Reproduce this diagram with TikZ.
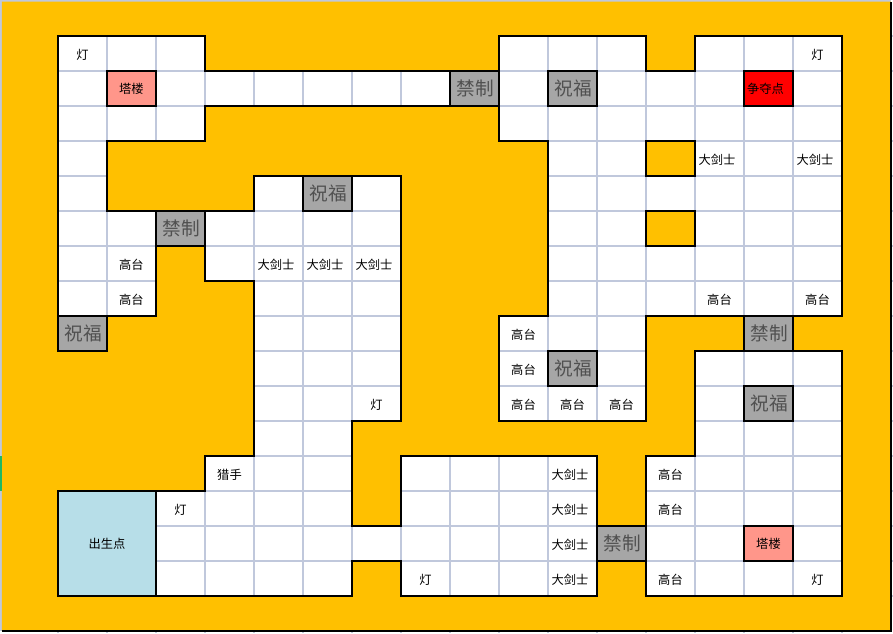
\documentclass[tikz,border=0pt]{standalone}
\usepackage{fontspec}
\setmainfont{Noto Sans CJK SC}
\definecolor{ground}{HTML}{FFC000}
\definecolor{gridc}{HTML}{C0C8DC}
\definecolor{towerc}{HTML}{FF968A}
\definecolor{spawnc}{HTML}{B7DEE8}
\definecolor{markc}{HTML}{A6A6A6}
\definecolor{marktext}{HTML}{505050}
\definecolor{tabc}{HTML}{1FB864}
\tikzset{
  gridline/.style={draw=gridc,line width=0.9pt},
  wall/.style={draw=black,line width=0.8pt,line join=miter},
  label/.style={inner sep=0pt,font=\fontsize{9.2}{10}\selectfont,text=black},
  boxcell/.style={draw=black,line width=0.8pt,inner sep=0pt,minimum width=36.75pt,minimum height=26.25pt},
  towercell/.style={boxcell,fill=towerc,font=\fontsize{9.2}{10}\selectfont},
  redcell/.style={boxcell,fill=red,font=\fontsize{9.2}{10}\selectfont},
  markcell/.style={boxcell,fill=markc,text=marktext,font=\fontsize{14}{15}\selectfont},
  spawncell/.style={draw=black,line width=0.8pt,fill=spawnc,inner sep=0pt,minimum width=73.5pt,minimum height=78.75pt,font=\fontsize{9.2}{10}\selectfont}
}
\begin{document}
\begin{tikzpicture}[x=36.75pt,y=-26.25pt]
\useasboundingbox (-1.18367,-1.02857) rectangle (17.04082,17.05714);
\fill[white] (-1.18367,-1.02857) rectangle (17.04082,17.05714);
% spreadsheet grid
\foreach \c in {0,...,16} \draw[gridline] (\c,-1.02857) -- (\c,17.05714);
\foreach \r in {0,...,16} \draw[gridline] (-1.18367,\r) -- (17.04082,\r);
\draw[gridline,line width=1.1pt] (-1.16,17) -- (-1.16,-1) -- (17,-1);
% orange ground, with the walkable area left open
\fill[ground,even odd rule]
  (-1.145,-0.985) rectangle (17,17)
  (0,0) -- (3,0) -- (3,1) -- (9,1) -- (9,0) -- (12,0) -- (12,1) -- (13,1) -- (13,0) -- (16,0) -- (16,8) -- (15,8) -- (15,9) -- (16,9) -- (16,16) -- (12,16) -- (12,15) -- (11,15) -- (11,16) -- (7,16) -- (7,15) -- (6,15) -- (6,16) -- (0,16) -- (0,13) -- (3,13) -- (3,12) -- (4,12) -- (4,7) -- (3,7) -- (3,6) -- (2,6) -- (2,8) -- (1,8) -- (1,9) -- (0,9) -- cycle
  (3,2) -- (9,2) -- (9,3) -- (10,3) -- (10,8) -- (9,8) -- (9,11) -- (12,11) -- (12,8) -- (14,8) -- (14,9) -- (13,9) -- (13,12) -- (12,12) -- (12,14) -- (11,14) -- (11,12) -- (7,12) -- (7,14) -- (6,14) -- (6,11) -- (7,11) -- (7,4) -- (4,4) -- (4,5) -- (1,5) -- (1,3) -- (3,3) -- cycle
  (12,3) rectangle (13,4)
  (12,5) rectangle (13,6);
% walls
\draw[wall]
  (0,0) -- (3,0) -- (3,1) -- (9,1) -- (9,0) -- (12,0) -- (12,1) -- (13,1) -- (13,0) -- (16,0) -- (16,8) -- (15,8) -- (15,9) -- (16,9) -- (16,16) -- (12,16) -- (12,15) -- (11,15) -- (11,16) -- (7,16) -- (7,15) -- (6,15) -- (6,16) -- (0,16) -- (0,13) -- (3,13) -- (3,12) -- (4,12) -- (4,7) -- (3,7) -- (3,6) -- (2,6) -- (2,8) -- (1,8) -- (1,9) -- (0,9) -- cycle
  (3,2) -- (9,2) -- (9,3) -- (10,3) -- (10,8) -- (9,8) -- (9,11) -- (12,11) -- (12,8) -- (14,8) -- (14,9) -- (13,9) -- (13,12) -- (12,12) -- (12,14) -- (11,14) -- (11,12) -- (7,12) -- (7,14) -- (6,14) -- (6,11) -- (7,11) -- (7,4) -- (4,4) -- (4,5) -- (1,5) -- (1,3) -- (3,3) -- cycle
  (12,3) rectangle (13,4)
  (12,5) rectangle (13,6)
  (-1.145,17) -- (17,17) -- (17,-0.985);
% selected row header
\fill[tabc] (-1.18367,12) rectangle (-1.15,13);
% labels
\foreach \c/\r in {0/0,15/0,6/10,2/13,7/15,15/15}
  \node[label] (lamp\c x\r) at (\c+.5,\r+.53) {灯};
\foreach \c/\r in {1/6,1/7,13/7,15/7,9/8,9/9,9/10,10/10,11/10,12/12,12/13,12/15}
  \node[label] (high\c x\r) at (\c+.5,\r+.53) {高台};
\foreach \c/\r in {13/3,15/3,4/6,5/6,6/6,10/12,10/13,10/14,10/15}
  \node[label] (sword\c x\r) at (\c+.45,\r+.54) {大剑士};
\node[label] (hunter) at (3.5,12.53) {猎手};
\foreach \c/\r in {1/1,14/14}
  \node[towercell] (tower\c x\r) at (\c+.5,\r+.5) {塔楼};
\node[redcell,text width=36.75pt,align=left] (contest) at (14.5,1.5) {\hspace{2.4pt}争夺点};
\foreach \c/\r in {10/1,5/4,0/8,10/9,14/10}
  \node[markcell] (bless\c x\r) at (\c+.5,\r+.5) {\raisebox{-1.5pt}{\hspace{1pt}祝福}};
\foreach \c/\r in {8/1,2/5,14/8,11/14}
  \node[markcell] (ban\c x\r) at (\c+.5,\r+.5) {\raisebox{-1.5pt}{\hspace{1pt}禁制}};
\node[spawncell] (spawn) at (1,14.5) {\raisebox{-0.7pt}{出生点}};
\end{tikzpicture}
\end{document}
